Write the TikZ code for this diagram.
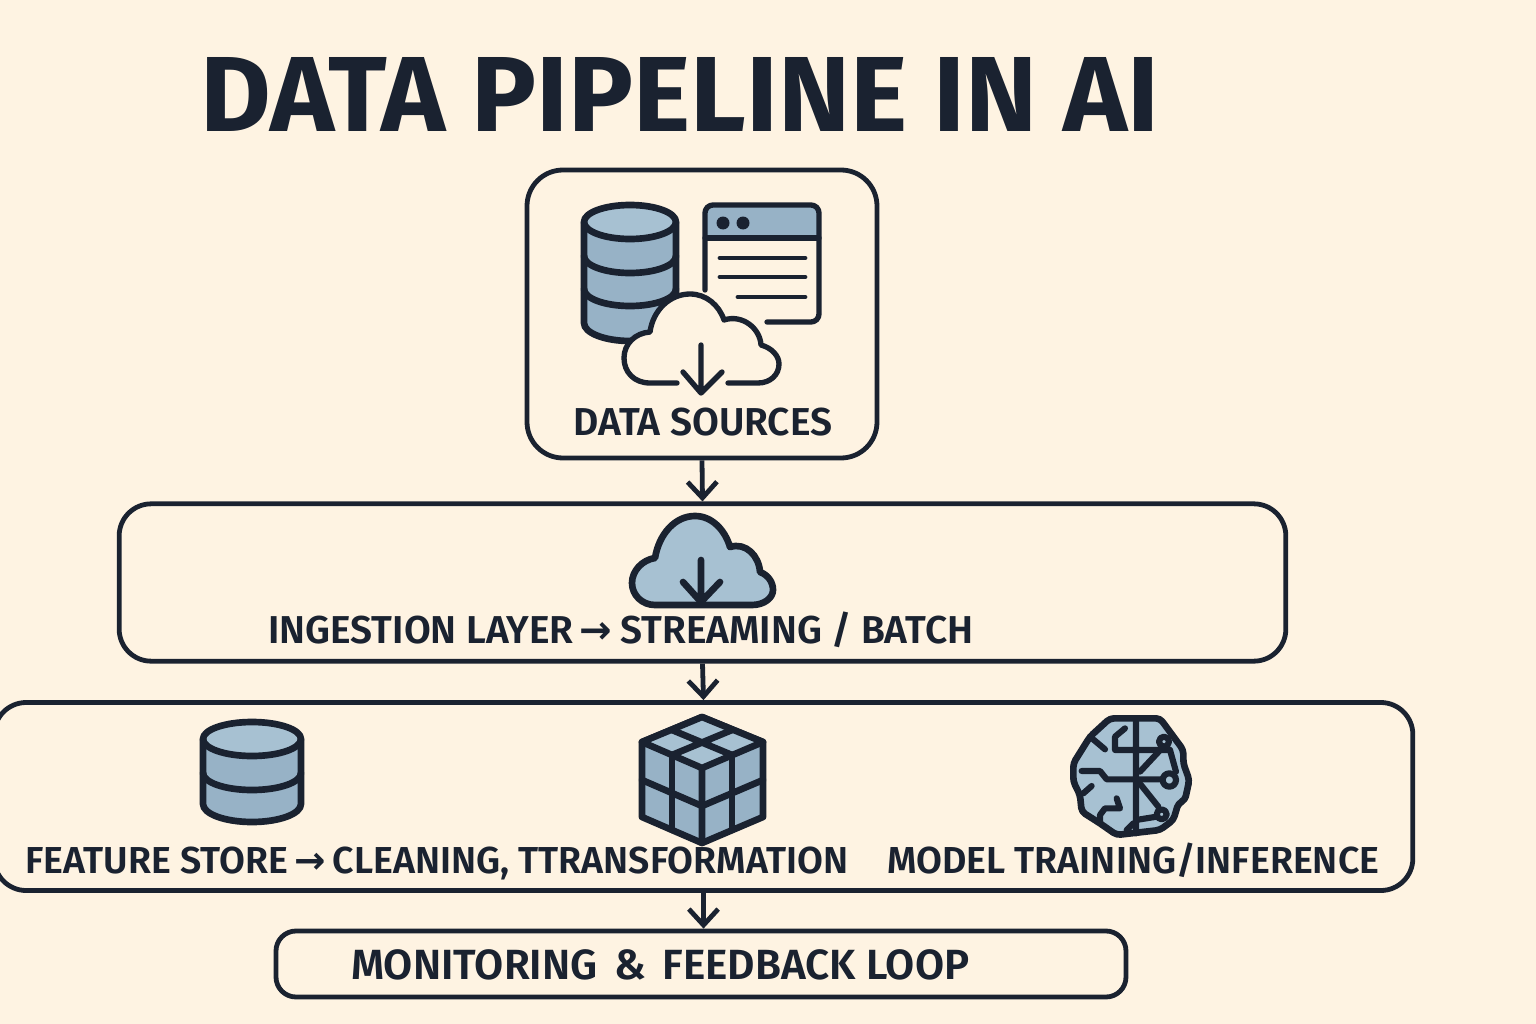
\documentclass[tikz,border=0pt]{standalone}
\usepackage{fontspec}
\usetikzlibrary{arrows.meta}
\setmainfont{Fira Sans}[BoldFont={* SemiBold}]
\newfontfamily\titlef{Fira Sans}[UprightFont={* Bold}]
\newfontfamily\arrowf{DejaVu Sans}[UprightFont={* Bold}]
\newlength{\px}\setlength{\px}{0.75pt}
\newcommand{\fitw}[2]{\resizebox{#1\px}{!}{\bfseries #2}}
\newcommand{\arw}{\kern0.16em{\arrowf →}\kern0.2em}
\definecolor{ink}{HTML}{1A2230}
\definecolor{cream}{HTML}{FEF3E2}
\definecolor{blue1}{HTML}{A7C1D2}
\definecolor{blue2}{HTML}{97B2C6}
\tikzset{
  panel/.style={draw=ink,line width=3.6pt,fill=none,rounded corners=#1,inner sep=0pt},
  flow/.style={draw=ink,line width=3.6pt,-{Straight Barb[length=12pt,width=22pt,line width=3.6pt]}},
  lbl/.style={anchor=base west,inner sep=0pt,text=ink},
  ico/.style={draw=ink,line width=4.6pt,line join=round,line cap=round},
  thin/.style={draw=ink,line width=3.6pt,line cap=round,line join=round},
  dbline/.style={draw=ink,line width=5pt,line join=round,line cap=round},
}
\begin{document}
\begin{tikzpicture}[x=0.75pt,y=-0.75pt]
\useasboundingbox (0,0) rectangle (1536,1024);
\fill[cream] (0,0) rectangle (1536,1024);
% boxes
\node[panel=27pt,minimum width=262.5pt,minimum height=216pt] (sources) at (702,314) {};
\node[panel=24pt,minimum width=875pt,minimum height=118pt] (ingest) at (702.5,582.5) {};
\node[panel=24pt,minimum width=1064pt,minimum height=141pt] (feature) at (703.5,796.5) {};
\node[panel=15pt,minimum width=637.5pt,minimum height=49.5pt] (monitor) at (701,964) {};
\draw[flow] (sources.south) -- (ingest.north);
\draw[flow] (ingest.south) -- (feature.north);
\draw[flow] (feature.south) -- (feature.south |- monitor.north);
% title + labels
\node[lbl] (title) at (200,132) {\resizebox{958\px}{74\px}{\titlef DATA PIPELINE IN AI}};
\node[lbl] (t1) at (573,435) {\fitw{259}{DATA SOURCES}};
\node[lbl] (t2) at (268,643) {\fitw{705}{INGESTION LAYER\arw STREAMING / BATCH}};
\node[lbl] (t3) at (25,873) {\fitw{823}{FEATURE STORE\arw CLEANING, TTRANSFORMATION}};
\node[lbl] (t4) at (887,873) {\fitw{492}{MODEL TRAINING/INFERENCE}};
\node[lbl] (t5) at (351,979) {\fitw{618}{MONITORING\kern0.15em\ \&\kern0.15em\ FEEDBACK LOOP}};
% database 1
\fill[blue2] (584,222) -- (584,323) arc[start angle=180,end angle=0,x radius=46,y radius=18] -- (676,222) -- cycle;
\fill[blue1] (630,222) ellipse[x radius=46,y radius=17];
\draw[dbline] (630,222) ellipse[x radius=46,y radius=17];
\draw[dbline] (584,222) -- (584,323) arc[start angle=180,end angle=0,x radius=46,y radius=18] -- (676,222);
\draw[dbline] (584,256) arc[start angle=180,end angle=0,x radius=46,y radius=17];
\draw[dbline] (584,289) arc[start angle=180,end angle=0,x radius=46,y radius=17];
% window
\fill[blue2,rounded corners=5pt] (705,238) -- (705,205) -- (819,205) -- (819,238) -- cycle;
\draw[ico,line width=4pt,rounded corners=6pt] (705,290) -- (705,205) -- (819,205) -- (819,322) -- (767,322);
\draw[ico,line width=4pt] (705,238) -- (819,238);
\fill[ink] (723,223) circle[radius=6.5] (743,223) circle[radius=6.5];
\draw[thin] (720,258) -- (805,258) (720,277) -- (805,277) (738,297) -- (805,297);
% cloud 1
\fill[cream] (650,383) .. controls (634,383) and (624,372) .. (624,358) .. controls (624,344) and (635,333) .. (650,332) .. controls (653,310) and (670,294) .. (690,294) .. controls (706,294) and (719,305) .. (724,320) .. controls (742,314) and (760,328) .. (761,345) .. controls (772,348) and (779,356) .. (779,364) .. controls (779,375) and (770,383) .. (758,383) -- cycle;
\draw[ico,line width=4pt] (677,383) -- (650,383) .. controls (634,383) and (624,372) .. (624,358) .. controls (624,344) and (635,333) .. (650,332) .. controls (653,310) and (670,294) .. (690,294) .. controls (706,294) and (719,305) .. (724,320) .. controls (742,314) and (760,328) .. (761,345) .. controls (772,348) and (779,356) .. (779,364) .. controls (779,375) and (770,383) .. (758,383) -- (728,383);
\draw[ico,line width=4pt] (701,345) -- (701,393) (683,372) -- (701,393) -- (722,372);
% cloud 2
\draw[ico,fill=blue1,line width=5pt] (655,605) .. controls (642,605) and (632,595) .. (632,583) .. controls (632,571) and (642,560) .. (655,558) .. controls (659,534) and (675,516) .. (695,516) .. controls (712,516) and (725,530) .. (730,547) .. controls (746,542) and (759,556) .. (760,572) .. controls (768,575) and (773,582) .. (773,590) .. controls (773,598) and (764,605) .. (752,605) -- cycle;
\draw[ico,line width=5pt] (701,560) -- (701,600) (683,582) -- (701,602) -- (720,582);
% database 2
\fill[blue2] (203,739) -- (203,804) arc[start angle=180,end angle=0,x radius=49,y radius=18] -- (301,739) -- cycle;
\fill[blue1] (252,739) ellipse[x radius=49,y radius=17];
\draw[dbline] (252,739) ellipse[x radius=49,y radius=17];
\draw[dbline] (203,739) -- (203,804) arc[start angle=180,end angle=0,x radius=49,y radius=18] -- (301,739);
\draw[dbline] (203,773) arc[start angle=180,end angle=0,x radius=49,y radius=17];
% cube
\filldraw[dbline,fill=blue2] (702,717) -- (763,742) -- (763,817) -- (702,843) -- (642,817) -- (642,742) -- cycle;
\fill[blue1] (702,717) -- (763,742) -- (702,768) -- (642,742) -- cycle;
\draw[dbline] (702,717) -- (763,742) -- (702,768) -- (642,742) -- cycle (702,768) -- (702,843);
\draw[dbline] (672,730) -- (732,755) (732,730) -- (672,755);
\draw[dbline] (672,755) -- (672,830) (732,755) -- (732,830);
\draw[dbline] (642,780) -- (702,806) -- (763,780);
% brain
\begin{scope}[shift={(1050,700)},x=0.25pt,y=-0.25pt]
\draw[dbline,fill=blue1,rounded corners=3pt] (180,55) -- (330,55) -- (400,150) -- (400,190) -- (418,240) -- (405,300) -- (385,310) -- (370,360) -- (330,390) -- (200,405) -- (150,370) -- (95,335) -- (90,285) -- (70,245) -- (70,190) -- (120,110) -- cycle;
\draw[ico] (258,55) -- (258,400) (195,150) -- (360,150) (195,150) -- (195,110) -- (225,85) (120,110) -- (165,148);
\draw[ico] (95,213) -- (150,213) -- (170,238) -- (345,238) (360,150) -- (378,215) (270,215) -- (340,140);
\draw[ico] (265,245) -- (325,320) (258,360) -- (320,350) (230,390) -- (250,370) (100,280) -- (125,258);
\draw[ico] (150,365) -- (150,345) -- (165,325) -- (210,325) -- (200,295);
\draw[ico,fill=blue1] (358,240) circle[radius=20] (342,125) circle[radius=15] (335,343) circle[radius=15];
\end{scope}
\end{tikzpicture}
\end{document}
